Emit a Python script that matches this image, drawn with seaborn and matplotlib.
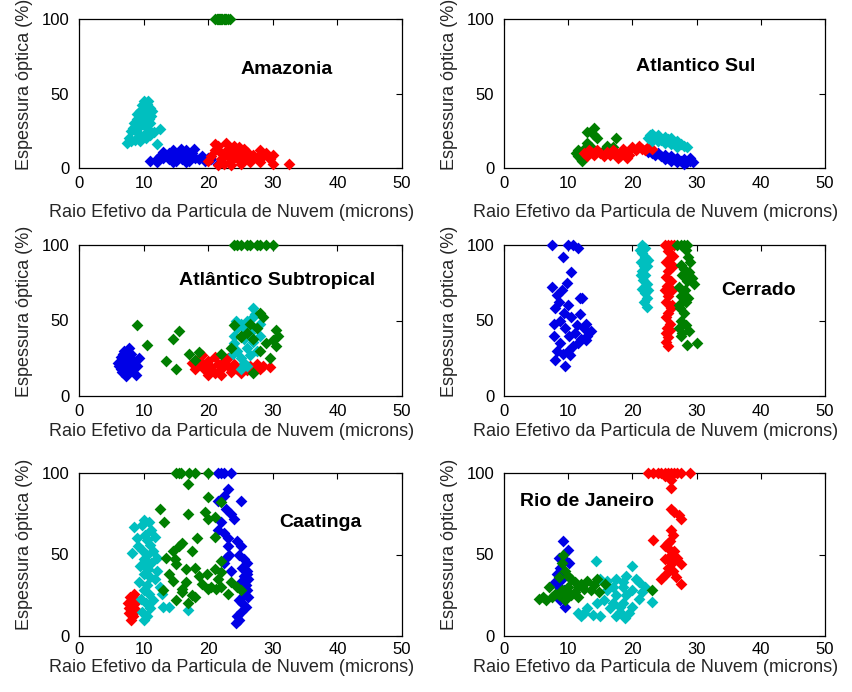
import matplotlib
matplotlib.use("Agg")
import matplotlib.pyplot as plt
import seaborn as sns
import pandas as pd

sns.set_theme(style="white")
plt.rcParams['font.family'] = ['Liberation Sans', 'DejaVu Sans']

# ---------------- data ----------------
# Amazonia
amz_green_x = [21.0, 21.3, 21.6, 21.9, 22.2, 22.5, 22.8, 23.1, 23.4, 21.5, 22.0, 22.6]
amz_green_y = [100] * 12
amz_cyan_x = [10, 9.8, 10.5, 11, 9.5, 10, 11.2, 9, 10.3, 11, 8.5, 9.5, 10.6, 8, 9, 10, 7.8, 8.7, 9.5, 7.5,
              11, 12.5, 12, 10.8, 9.2, 8.3, 10.1, 9.7, 10.8, 11.3, 9.4, 10.4, 8.0, 11.6, 9, 10.7]
amz_cyan_y = [45, 42, 43, 40, 38, 36, 35, 33, 32, 30, 30, 28, 27, 25, 24, 22, 20, 19, 18, 17,
              22, 26, 16, 25, 21, 27, 39, 30, 33, 38, 35, 20, 18, 24, 36, 45]
amz_blue_x = [11, 12, 12.5, 13, 13.5, 14, 14, 14.5, 15, 15, 15.5, 16, 16, 16.5, 17, 17, 17.5, 18, 18.5, 19,
              19.5, 20, 20.5, 21.5, 13, 14.5, 15.8, 12, 17.8, 16.6]
amz_blue_y = [5, 6, 8, 7, 9, 10, 6, 12, 8, 5, 11, 9, 6, 12, 8, 5, 10, 7, 6, 8,
              5, 7, 6, 3, 11, 4, 13, 4, 13, 4]
amz_red_x = [20, 20.5, 21, 21, 21.5, 22, 22, 22.5, 23, 23, 23.5, 24, 24, 24.5, 25, 25, 25.5, 26, 26, 26.5,
             27, 27.5, 28, 28, 28.5, 29, 29.5, 30, 30, 32.5, 21.5, 23.5, 24.8, 22.8]
amz_red_y = [5, 8, 12, 16, 15, 10, 6, 3, 13, 8, 5, 11, 15, 7, 9, 3, 13, 6, 11, 4,
             9, 7, 12, 4, 8, 10, 6, 9, 3, 3, 2, 2, 14, 17]

# Atlantico Sul
as_green_x = [11.5, 11.5, 12, 12, 12.5, 12.5, 13, 14, 14.5, 13.5, 13, 15.5, 16, 16.5, 17.5, 17, 12.2, 11.2, 14, 16]
as_green_y = [8, 12, 10, 6, 13, 9, 24, 27, 20, 14, 17, 12, 15, 11, 20, 14, 5, 10, 22, 13]
as_red_x = [12.5, 13, 13.5, 14, 14.5, 15, 15.5, 16, 16.5, 17, 17.5, 18, 18.5, 19, 19.5, 20, 20.5, 21, 21.5, 22,
            22.5, 23, 13.2, 17.8, 19.2]
as_red_y = [10, 8, 11, 9, 12, 10, 8, 11, 9, 12, 10, 8, 13, 11, 9, 14, 12, 15, 13, 12,
            14, 13, 12, 7, 7]
as_cyan_x = [22.5, 23, 23.5, 24, 24.5, 25, 25.5, 26, 26.5, 27, 27.5, 28, 28.5, 24, 25, 26, 27, 23, 22.8, 25.5]
as_cyan_y = [20, 23, 21, 22, 19, 21, 18, 20, 17, 18, 16, 15, 14, 18, 17, 16, 14, 18, 22, 19.5]
as_blue_x = [22.5, 23, 23.5, 24, 24.5, 25, 25.5, 26, 26.5, 27, 27.5, 28, 28.5, 29, 29.5, 26, 27, 28, 25, 29]
as_blue_y = [11, 10, 9, 10, 8, 9, 7, 8, 6, 7, 5, 6, 4, 5, 4, 5, 4, 3, 6, 6.5]

# Atlantico Subtropical
ast_green_x = [24, 24.5, 25, 26, 26.5, 27.5, 28, 29, 30,
               9, 10.5, 13.5, 14.5, 15, 15.5, 17, 18, 18.5, 22, 23.5, 24, 25, 26, 27, 27.5, 28, 28.5,
               29, 29.5, 30, 30.5, 30.5, 30.8, 27, 25, 28, 26.5]
ast_green_y = [100, 100, 100, 100, 100, 100, 100, 100, 100,
               47, 34, 23, 38, 18, 43, 28, 24, 29, 28, 32, 47, 40, 42, 38, 45, 55, 52,
               35, 25, 37, 44, 33, 40, 15, 39, 30, 48]
ast_blue_x = [6, 6.5, 6.5, 7, 7, 7, 7.5, 7.5, 8, 8, 8.5, 8.8, 9, 9.3, 6.2, 7.2, 7.8, 6.8, 8.3, 7.4, 6.6]
ast_blue_y = [22, 18, 26, 15, 22, 30, 19, 25, 17, 28, 22, 14, 20, 25, 20, 13, 32, 28, 24, 21, 16]
ast_red_x = [17.5, 18, 18.5, 19, 19.5, 20, 20.5, 21, 21, 21.5, 22, 22, 22.5, 23, 23.5, 24, 24.5, 25, 25.5, 26,
             26.5, 27, 27.5, 28, 28.5, 29.5, 19, 20, 23, 18.2]
ast_red_y = [22, 18, 25, 21, 17, 23, 19, 26, 15, 21, 18, 14, 23, 20, 16, 21, 18, 15, 20, 17,
             20, 18, 21, 18, 20, 19, 27, 14, 25, 20]
ast_cyan_x = [24, 24, 24.5, 24.5, 25, 25, 25.5, 25.5, 26, 26, 26.5, 26.5, 27, 27, 27, 27.5, 27.5, 28, 28,
              23.8, 25, 26, 24.3, 25.8, 26.8, 27.3]
ast_cyan_y = [40, 35, 45, 30, 48, 25, 38, 22, 50, 32, 42, 27, 58, 52, 36, 45, 30, 48, 40,
              28, 18, 20, 50, 44, 46, 54]

# Cerrado
ce_blue_x = [7.5, 10, 11.5, 10.8, 9.2, 10.5, 9.8, 7.5, 8.2, 9, 8.5, 10, 8, 9.3, 11.8, 12.2, 8.8, 10.5, 11.8, 7.8,
             9.5, 10.2, 11, 12, 12.5, 13, 13.5, 12.8, 11.5, 10.8, 10, 9.2, 8.2, 8, 9.5, 8.8, 11.3, 12.8, 7.8, 10.3]
ce_blue_y = [100, 100, 98, 100, 92, 82, 75, 72, 67, 70, 62, 60, 58, 55, 65, 65, 50, 52, 54, 48,
             45, 40, 42, 38, 45, 40, 43, 37, 35, 33, 30, 28, 30, 24, 20, 35, 47, 48, 40, 27]
ce_cyan_x = [21.5, 22, 21.5, 22, 21.3, 22.2, 21.5, 22, 21.7, 22.3, 21.5, 22, 22.2, 21.8, 22.2, 21.2, 22.5, 21.4, 21.8, 22.5]
ce_cyan_y = [100, 98, 95, 92, 89, 86, 83, 80, 77, 74, 71, 68, 65, 62, 59, 97, 90, 80, 86, 70]
ce_red_x = [25, 25.5, 26, 26.5, 25.5, 26, 25.3, 26.3, 25.6, 25.2, 26, 25.4, 26.2, 25.5, 25.3, 26, 25.5, 25.2, 25.8, 25.4,
            25.2, 25.6, 25.3, 25.5, 26.3, 25.1, 26.1, 25.9]
ce_red_y = [100, 100, 100, 100, 96, 92, 89, 86, 83, 79, 76, 73, 70, 66, 62, 58, 55, 52, 48, 45,
            42, 39, 36, 33, 93, 70, 60, 44]
ce_green_x = [27, 27.5, 28, 28.5, 28.3, 28.7, 29, 27.5, 28, 28.8, 29.3, 27.8, 28.5, 29.6, 27.3, 28.2, 27.6, 28.4, 27.4, 28,
              27.6, 28.3, 27.2, 27.8, 28.8, 27.5, 28.5, 30, 28.6, 27.2]
ce_green_y = [100, 100, 100, 100, 97, 92, 89, 87, 84, 82, 78, 80, 76, 74, 72, 70, 66, 62, 58, 55,
              50, 47, 45, 42, 43, 40, 34, 35, 65, 60]

# Caatinga
ca_red_x = [7.8, 8, 8.2, 8.5, 7.6, 8.8, 8.3, 7.9, 8.6, 8.1, 8.7, 7.7]
ca_red_y = [14, 18, 22, 26, 20, 16, 12, 24, 20, 10, 23, 17]
ca_cyan_x = [10, 10.8, 9.8, 8.5, 11.2, 10.2, 10.5, 11, 9.2, 9.8, 10.5, 11.5, 8.2, 10, 11.2, 9.5, 10.7, 12, 10, 11,
             9.3, 10.5, 11.8, 10, 10.8, 12.5, 9.6, 10.4, 11, 9.8, 10.5, 10, 13, 14, 16.8, 11.5, 12, 12.8, 10.2, 9, 11.7]
ca_cyan_y = [71, 70, 68, 67, 65, 62, 59, 56, 55, 53, 50, 52, 51, 47, 45, 43, 41, 40, 38, 36,
             33, 31, 35, 28, 26, 30, 23, 20, 17, 15, 12, 10, 18, 18, 16, 22, 48, 26, 44, 60, 61]
ca_green_x = [15, 15.5, 17, 18, 20, 15.8, 16.8, 20, 22, 12.5, 16.8, 19.5, 13.2, 21, 20, 18.2, 21, 16, 15.5, 14.5,
              17.5, 14.8, 13.5, 15, 22, 16.5, 18, 21, 22, 14, 18.5, 21.5, 19.8, 14.5, 16.5, 19, 20.5, 22, 13, 16,
              17.5, 18, 15, 16.8, 16, 23, 24.5, 25, 23.5, 20, 21.2]
ca_green_y = [100, 100, 100, 100, 100, 100, 93, 85, 82, 78, 75, 76, 70, 73, 72, 60, 61, 57, 55, 52,
              52, 47, 48, 44, 46, 41, 42, 41, 39, 38, 37, 35, 38, 34, 33, 32, 30, 30, 28, 27,
              25, 24, 22, 20, 29, 26, 30, 28, 33, 29, 29]
ca_blue_x = [21.5, 22, 22.5, 23.5, 23, 22.5, 21.5, 25, 22.8, 23.5, 24, 22, 21.5, 22.5, 23, 24.5, 23, 25, 23.2, 24.8,
             25.5, 26, 25.3, 26, 25.5, 26.2, 25, 25.8, 26, 25.5, 24.8, 25.2, 25.8, 25, 24.5, 24.8, 24.3, 26.2, 26,
             22.5, 23.5, 22.8]
ca_blue_y = [100, 100, 100, 100, 90, 86, 83, 83, 78, 75, 72, 70, 65, 63, 60, 58, 55, 55, 50, 50,
             47, 45, 42, 40, 37, 35, 33, 31, 28, 25, 22, 20, 18, 15, 12, 10, 8, 24, 38,
             45, 40, 48]

# Rio de Janeiro
rj_red_x = [22.5, 23.2, 24, 24.5, 25, 25.5, 26, 26.5, 27, 27.5, 29, 25, 26,
            26, 26, 26.5, 27.3, 27.5, 26, 26.3, 25.8, 23.2, 25, 26.5, 25.8, 25, 27, 26.2, 25.5, 27.5,
            26.3, 25.2, 26.8, 27.5, 24.5, 26, 25.5]
rj_red_y = [100, 100, 100, 100, 100, 100, 100, 100, 100, 100, 100, 98, 96,
            91, 78, 76, 74, 72, 65, 62, 58, 59, 55, 52, 49, 47, 48, 45, 42, 44,
            40, 38, 36, 32, 35, 52, 57]
rj_blue_x = [9.2, 10, 8.5, 9.3, 10.2, 8.7, 8.2, 9, 8.5, 9.4, 8.8, 9.5, 8, 9]
rj_blue_y = [58, 53, 48, 47, 45, 42, 38, 35, 30, 28, 22, 18, 33, 40]
rj_green_x = [9.2, 9, 9.5, 10, 8.5, 10.5, 11, 12, 13, 14, 11.5, 10, 9, 8.5, 7.5, 6, 5.5, 6.5, 7, 9.5,
              10.5, 11, 12.5, 11.5, 13.5, 8, 9.8, 14.5, 14.8, 23, 15.8]
rj_green_y = [50, 45, 40, 37, 36, 35, 33, 32, 34, 31, 30, 30, 28, 25, 24, 24, 23, 22, 30, 22,
              25, 27, 29, 24, 28, 26, 26, 35, 27, 28, 32]
rj_cyan_x = [14.3, 20, 19, 20.5, 17.5, 16, 15, 18.5, 21, 17, 18.5, 20, 22, 16, 17.5, 19, 21, 23, 15.5, 17,
             18.5, 20, 16.5, 18, 19.5, 17.5, 18.8, 13, 12.5, 12, 13.8, 11.5, 15, 14.5, 21.5, 18]
rj_cyan_y = [46, 43, 37, 35, 35, 34, 35, 33, 33, 30, 30, 28, 30, 28, 25, 25, 23, 21, 22, 20,
             20, 18, 17, 15, 14, 12, 11, 17, 14, 12, 13, 14, 12, 20, 27, 18]

titles = ["Amazonia", "Atlantico Sul", "Atlântico Subtropical", "Cerrado", "Caatinga", "Rio de Janeiro"]
title_pos = [(32.2, 66.4), (29.9, 67.8), (30.7, 76.8), (39.6, 70.0), (37.3, 69.5), (13.0, 82.6)]

panels = [
    [("blue", amz_blue_x, amz_blue_y), ("red", amz_red_x, amz_red_y),
     ("cyan", amz_cyan_x, amz_cyan_y), ("green", amz_green_x, amz_green_y)],
    [("blue", as_blue_x, as_blue_y), ("green", as_green_x, as_green_y),
     ("red", as_red_x, as_red_y), ("cyan", as_cyan_x, as_cyan_y)],
    [("blue", ast_blue_x, ast_blue_y), ("red", ast_red_x, ast_red_y),
     ("cyan", ast_cyan_x, ast_cyan_y), ("green", ast_green_x, ast_green_y)],
    [("blue", ce_blue_x, ce_blue_y), ("cyan", ce_cyan_x, ce_cyan_y),
     ("red", ce_red_x, ce_red_y), ("green", ce_green_x, ce_green_y)],
    [("red", ca_red_x, ca_red_y), ("cyan", ca_cyan_x, ca_cyan_y),
     ("blue", ca_blue_x, ca_blue_y), ("green", ca_green_x, ca_green_y)],
    [("red", rj_red_x, rj_red_y), ("blue", rj_blue_x, rj_blue_y),
     ("cyan", rj_cyan_x, rj_cyan_y), ("green", rj_green_x, rj_green_y)],
]

palette = {"blue": "#0000e6", "red": "#ff0000", "cyan": "#00bfbf", "green": "#007f00"}

xticks = [0, 10, 20, 30, 40, 50]
yticks = [0, 50, 100]
xlabel = "Raio Efetivo da Particula de Nuvem (microns)"
ylabel = "Espessura óptica (%)"

# ---------------- layout ----------------
fig = plt.figure(figsize=(8.52, 6.92), dpi=100)
fig.patch.set_facecolor("white")
W, H = 852, 692
col_px = [(79, 402), (504, 825)]
row_px = [(19, 168), (245, 396), (473, 636)]
row_xpad = [6, 6, 4]
row_labelpad = [9, 3, 2]

for i, (series, title, tpos) in enumerate(zip(panels, titles, title_pos)):
    r, c = divmod(i, 2)
    x0, x1 = col_px[c]
    y0, y1 = row_px[r]
    ax = fig.add_axes([x0 / W, 1 - y1 / H, (x1 - x0) / W, (y1 - y0) / H])
    frames = []
    for name, xs, ys in series:
        frames.append(pd.DataFrame({"x": xs, "y": ys, "serie": name}))
    df = pd.concat(frames, ignore_index=True)
    for name, _, _ in series:
        sub = df[df["serie"] == name]
        sns.scatterplot(data=sub, x="x", y="y", color=palette[name], marker="D", s=36,
                        linewidth=0, ax=ax, legend=False, clip_on=False, zorder=3)
    ax.set_xlim(0, 50)
    ax.set_ylim(0, 100)
    ax.set_xticks(xticks)
    ax.set_yticks(yticks)
    ax.tick_params(direction="in", length=4, width=0.8, top=True, right=True,
                   labelsize=12, colors="black")
    ax.tick_params(axis="x", pad=row_xpad[r])
    ax.tick_params(axis="y", pad=7)
    for sp in ax.spines.values():
        sp.set_color("black")
        sp.set_linewidth(0.9)
    ax.set_facecolor("white")
    ax.set_xlabel(xlabel, fontsize=13, labelpad=row_labelpad[r])
    ax.set_ylabel(ylabel, fontsize=13, labelpad=6)
    ax.xaxis.label.set_x(0.472)
    ax.yaxis.label.set_y(0.56)
    ax.text(tpos[0], tpos[1], title, fontsize=14, fontweight="bold",
            ha="center", va="center", color="black")

fig.savefig("out.png", dpi=100, facecolor="white")
